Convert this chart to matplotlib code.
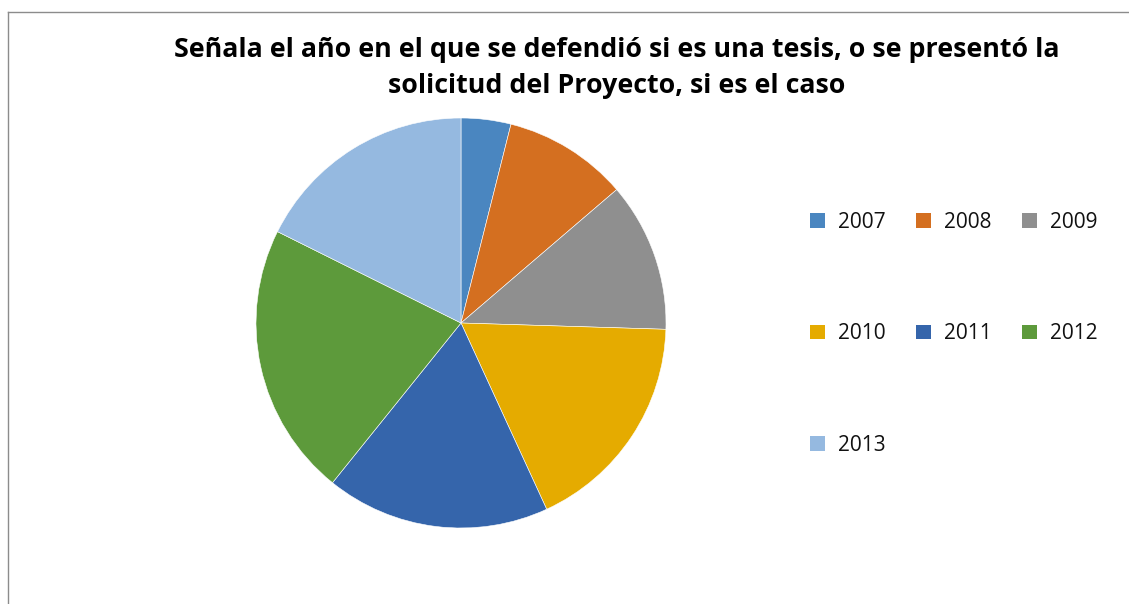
import matplotlib.pyplot as plt
from matplotlib.patches import Patch
from matplotlib.lines import Line2D

# data
years = ["2007", "2008", "2009", "2010", "2011", "2012", "2013"]
counts = [2, 5, 6, 9, 9, 11, 9]
colors = ["#4A86C0", "#D46F20", "#8F8F8F", "#E5AB00", "#3565AB", "#5D9A3B", "#95B9E0"]
title = "Señala el año en el que se defendió si es una tesis, o se presentó la\nsolicitud del Proyecto, si es el caso"

W, H = 1129, 604
fig = plt.figure(figsize=(W / 100, H / 100), dpi=100)

# chart frame (only top and left visible)
fig.add_artist(Line2D([8 / W, 8 / W], [0, 1 - 12 / H], color="#8c8c8c", lw=1))
fig.add_artist(Line2D([8 / W, 1], [1 - 12 / H, 1 - 12 / H], color="#8c8c8c", lw=1))

# pie: centre (461, 323), radius 205 px
r = 205
cx, cy = 461, 323
ax = fig.add_axes([(cx - r) / W, 1 - (cy + r) / H, 2 * r / W, 2 * r / H])
ax.pie(counts, colors=colors, startangle=90, counterclock=False,
       wedgeprops=dict(edgecolor="white", linewidth=0.4))
ax.set_xlim(-1, 1)
ax.set_ylim(-1, 1)
ax.set_aspect("equal")

fig.text(617 / W, 1 - 68 / H, title, ha="center", va="center",
         fontsize=19.3, fontweight="bold", family="Open Sans", linespacing=1.5)

# legend laid out row-wise (matplotlib fills columns)
order = [0, 3, 6, 1, 4, 2, 5]
handles = [Patch(facecolor=colors[i], edgecolor="none") for i in order]
labels = [years[i] for i in order]
leg = fig.legend(handles, labels, ncol=3, loc="upper left",
                 bbox_to_anchor=(810 / W, 1 - 212 / H),
                 frameon=False, prop=dict(family="Open Sans", size=15),
                 handlelength=0.7, handleheight=0.7, handletextpad=0.64,
                 columnspacing=1.47, labelspacing=4.34, borderpad=0, borderaxespad=0)
for t in leg.get_texts():
    t.set_color("#111111")

fig.savefig("out.png", dpi=100)
